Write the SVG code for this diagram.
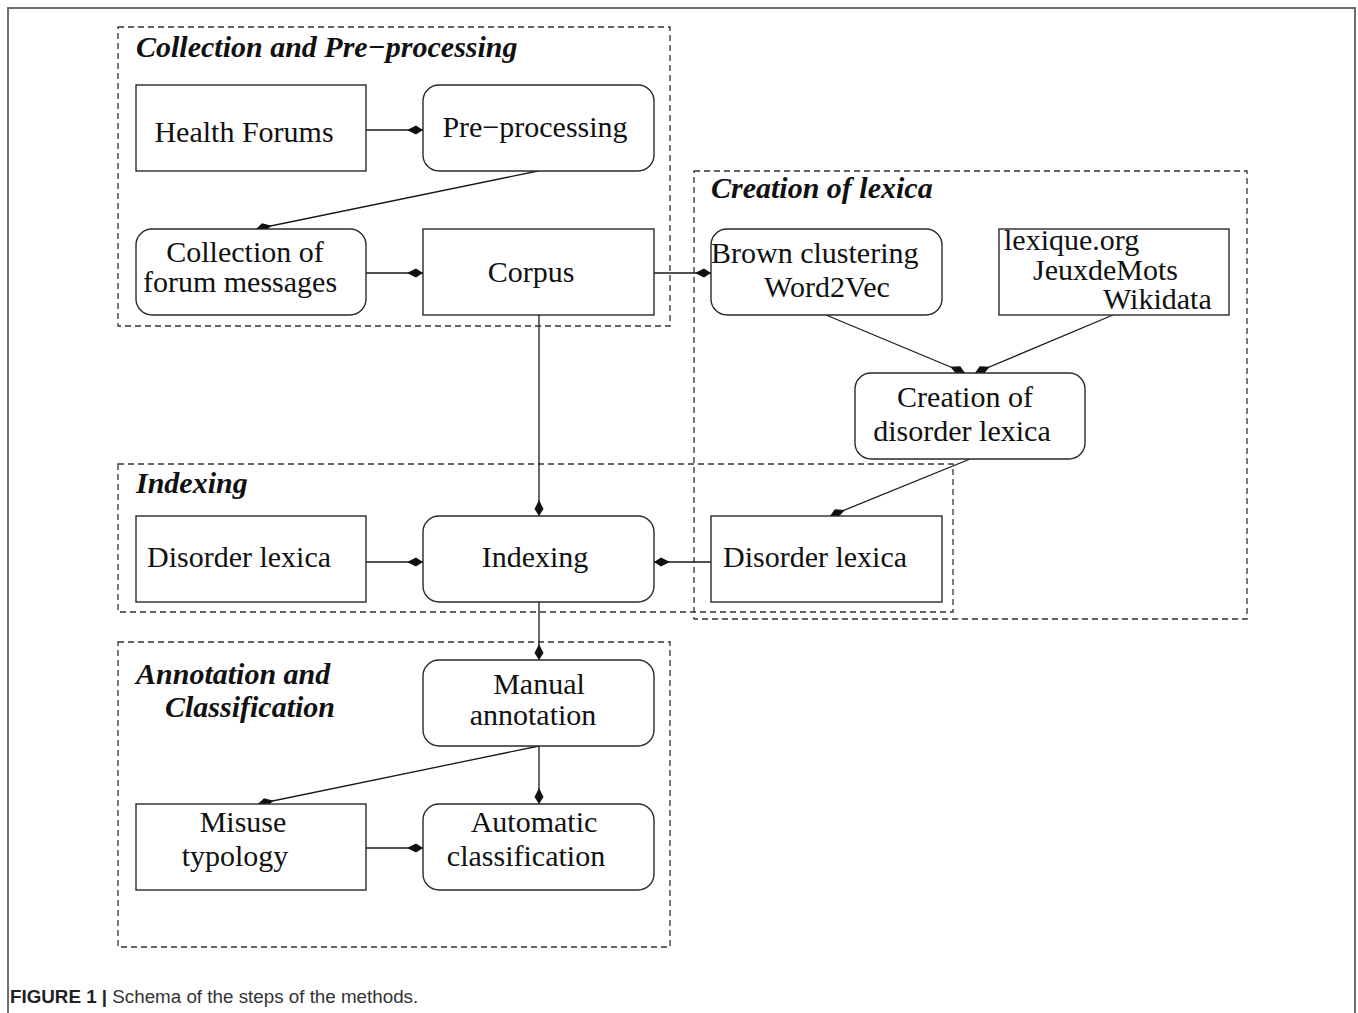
<svg xmlns="http://www.w3.org/2000/svg" width="1358" height="1013" viewBox="0 0 1358 1013">
<style>
.frame{fill:none;stroke:#6e6e6e;stroke-width:2}
.grp{fill:none;stroke:#333;stroke-width:1.3;stroke-dasharray:6 4}
.box{fill:#fff;stroke:#2a2a2a;stroke-width:1.4}
.t{font-family:"Liberation Serif","Times New Roman",serif;font-size:30px;fill:#111}
.gt{font-family:"Liberation Serif","Times New Roman",serif;font-size:30px;font-weight:bold;font-style:italic;fill:#111}
.c{text-anchor:middle}
.edge{fill:none;stroke:#1a1a1a;stroke-width:1.3;marker-end:url(#ah)}
.cap{font-family:"Liberation Sans",Arial,sans-serif;font-size:18.8px;fill:#333}
</style>
<defs>
<marker id="ah" viewBox="-18 -6 19 12" markerWidth="19" markerHeight="12" refX="0" refY="0" orient="auto" markerUnits="userSpaceOnUse">
<path d="M0,0 L-7,-4.5 L-16,0 L-7,4.5 Z" fill="#111"/>
</marker>
</defs>
<rect width="1358" height="1013" fill="#fff"/>
<path class="frame" d="M8,1013 V8 H1355 V1013"/>

<g id="group-collection">
<rect class="grp" x="118" y="27" width="552" height="299"/>
<text class="gt" x="136" y="57">Collection and Pre−processing</text>
</g>
<g id="group-creation">
<rect class="grp" x="694" y="171" width="553" height="448"/>
<text class="gt" x="711" y="198">Creation of lexica</text>
</g>
<g id="group-indexing">
<rect class="grp" x="118" y="464" width="835" height="148"/>
<text class="gt" x="136" y="493">Indexing</text>
</g>
<g id="group-annotation">
<rect class="grp" x="118" y="642" width="552" height="305"/>
<text class="gt" x="136" y="684">Annotation and</text>
<text class="gt" x="165" y="717">Classification</text>
</g>

<g id="connectors">
<line class="edge" x1="366" y1="130" x2="423" y2="130"/>
<line class="edge" x1="538" y1="171" x2="256" y2="229"/>
<line class="edge" x1="366" y1="273" x2="423" y2="273"/>
<line class="edge" x1="654" y1="273" x2="711" y2="273"/>
<line class="edge" x1="539" y1="315" x2="539" y2="516"/>
<line class="edge" x1="826" y1="315" x2="965" y2="373"/>
<line class="edge" x1="1113" y1="315" x2="975" y2="373"/>
<line class="edge" x1="970" y1="459" x2="830" y2="516"/>
<line class="edge" x1="366" y1="562" x2="423" y2="562"/>
<line class="edge" x1="711" y1="562" x2="654" y2="562"/>
<line class="edge" x1="539" y1="602" x2="539" y2="660"/>
<line class="edge" x1="539" y1="746" x2="539" y2="804"/>
<line class="edge" x1="539" y1="746" x2="258" y2="804"/>
<line class="edge" x1="366" y1="848" x2="423" y2="848"/>
</g>

<g id="node-health-forums">
<rect class="box" x="136" y="85" width="230" height="86"/>
<text class="t c" x="244" y="142">Health Forums</text>
</g>
<g id="node-preprocessing">
<rect class="box" x="423" y="85" width="231" height="86" rx="16"/>
<text class="t c" x="535" y="137">Pre−processing</text>
</g>
<g id="node-collection">
<rect class="box" x="136" y="229" width="230" height="86" rx="16"/>
<text class="t c" x="245" y="262">Collection of</text>
<text class="t c" x="240" y="292">forum messages</text>
</g>
<g id="node-corpus">
<rect class="box" x="423" y="229" width="231" height="86"/>
<text class="t c" x="531" y="282">Corpus</text>
</g>
<g id="node-brown">
<rect class="box" x="711" y="229" width="231" height="86" rx="16"/>
<text class="t" x="711" y="263">Brown clustering</text>
<text class="t" x="764" y="297">Word2Vec</text>
</g>
<g id="node-resources">
<rect class="box" x="999" y="229" width="230" height="86"/>
<text class="t" x="1004" y="250">lexique.org</text>
<text class="t" x="1033" y="280">JeuxdeMots</text>
<text class="t" x="1103" y="309">Wikidata</text>
</g>
<g id="node-creation">
<rect class="box" x="855" y="373" width="230" height="86" rx="16"/>
<text class="t c" x="965" y="407">Creation of</text>
<text class="t c" x="962" y="441">disorder lexica</text>
</g>
<g id="node-disorder-left">
<rect class="box" x="136" y="516" width="230" height="86"/>
<text class="t" x="147" y="567">Disorder lexica</text>
</g>
<g id="node-indexing">
<rect class="box" x="423" y="516" width="231" height="86" rx="16"/>
<text class="t c" x="535" y="567">Indexing</text>
</g>
<g id="node-disorder-right">
<rect class="box" x="711" y="516" width="231" height="86"/>
<text class="t" x="723" y="567">Disorder lexica</text>
</g>
<g id="node-manual">
<rect class="box" x="423" y="660" width="231" height="86" rx="16"/>
<text class="t c" x="539" y="694">Manual</text>
<text class="t c" x="533" y="725">annotation</text>
</g>
<g id="node-misuse">
<rect class="box" x="136" y="804" width="230" height="86"/>
<text class="t c" x="243" y="832">Misuse</text>
<text class="t c" x="235" y="866">typology</text>
</g>
<g id="node-automatic">
<rect class="box" x="423" y="804" width="231" height="86" rx="16"/>
<text class="t c" x="534" y="832">Automatic</text>
<text class="t c" x="526" y="866">classification</text>
</g>

<text class="cap" x="10" y="1003"><tspan font-weight="bold" fill="#222">FIGURE 1 | </tspan>Schema of the steps of the methods.</text>
</svg>
